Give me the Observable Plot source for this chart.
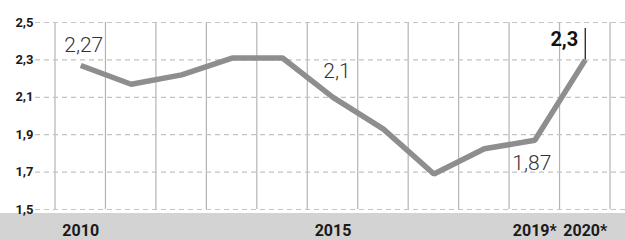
<!DOCTYPE html>
<html>
<head>
<meta charset="utf-8">
<script src="https://cdn.jsdelivr.net/npm/d3@7"></script>
<script src="https://cdn.jsdelivr.net/npm/@observablehq/plot@0.6"></script>
<style>
  html, body { margin: 0; padding: 0; background: #fff; }
  #chart svg { display: block; font-family: Roboto, "Noto Sans", sans-serif; }
</style>
</head>
<body>
<div id="chart"></div>
<script>
const years = ["2010","2011","2012","2013","2014","2015","2016","2017","2018","2019","2020"];
const values = [2.27, 2.17, 2.22, 2.31, 2.31, 2.10, 1.93, 1.69, 1.825, 1.87, 2.30];
const yTicks = [1.5, 1.7, 1.9, 2.1, 2.3, 2.5];
const xTickYears = ["2010", "2015", "2019", "2020"];
const xTickLabels = ["2010", "2015", "2019*", "2020*"];
const labelYears = ["2010", "2015", "2019"];
const highlightYear = "2020";

const data = years.map((year, i) => ({year, value: values[i]}));
const labelData = data.filter(d => labelYears.includes(d.year));
const highlight = data.filter(d => d.year === highlightYear);
const fmt = v => String(v).replace(".", ",");
const yTop = d3.max(yTicks);

// background band + vertical band separators drawn from the scales
function backdrop(index, scales, values, dimensions) {
  const dims = dimensions || {width: 625, height: 240, marginTop: 22, marginBottom: 31};
  const x = scales.x, y = scales.y;
  const bw = typeof x.bandwidth === "function" ? x.bandwidth() : x.bandwidth;
  const g = d3.create("svg:g");
  const top = y(d3.max(yTicks)), bottom = y(d3.min(yTicks));
  g.append("rect")
    .attr("x", 0).attr("y", bottom + 4)
    .attr("width", dims.width).attr("height", dims.height - bottom - 4)
    .attr("fill", "#d3d3d3");
  const edges = years.map(t => x(t)).concat([x(years[years.length - 1]) + bw]);
  g.selectAll("line").data(edges).join("line")
    .attr("x1", d => d).attr("x2", d => d)
    .attr("y1", top).attr("y2", bottom)
    .attr("stroke", "#b4b4b4").attr("stroke-width", 1.2);
  return g.node();
}

const off = {"2010": [3, -20], "2015": [4, -26], "2019": [-3, 23]};

const chart = Plot.plot({
  width: 625,
  height: 240,
  marginLeft: 35,
  marginRight: 0,
  marginTop: 22,
  marginBottom: 31,
  style: {fontFamily: "Roboto, 'Noto Sans', sans-serif", background: "#fff"},
  x: {type: "band", domain: years, padding: 0, round: false, insetLeft: 20, insetRight: 15},
  y: {domain: [1.5, 2.5]},
  marks: [
    backdrop,
    Plot.gridY(yTicks, {stroke: "#c4c4c4", strokeOpacity: 1, strokeWidth: 1.2, strokeDasharray: "5,4"}),
    Plot.axisY(yTicks, {tickSize: 0, tickPadding: 2, tickFormat: fmt, fontSize: 13, fontWeight: "bold", fill: "#1a1a1a", label: null}),
    Plot.axisX(xTickYears, {tickSize: 0, tickPadding: 15, tickFormat: d => xTickLabels[xTickYears.indexOf(d)], fontSize: 16, fontWeight: "bold", fill: "#1a1a1a", label: null}),
    Plot.ruleX(highlight, {x: "year", y1: () => yTop, y2: "value", insetTop: 6, stroke: "#222", strokeWidth: 1.3}),
    Plot.line(data, {x: "year", y: "value", stroke: "#8e8e8e", strokeWidth: 5.5, strokeLinejoin: "miter", strokeLinecap: "butt"}),
    ...labelData.map(d => Plot.text([d], {x: "year", y: "value", text: t => fmt(t.value), dx: off[d.year][0], dy: off[d.year][1], fontSize: 21, fontWeight: 300, fill: "#333"})),
    Plot.text(highlight, {x: "year", y: "value", text: t => fmt(t.value), textAnchor: "end", dx: -7, dy: -20, fontSize: 20, fontWeight: "bold", fill: "#111"})
  ]
});
document.getElementById("chart").appendChild(chart);
</script>
</body>
</html>
